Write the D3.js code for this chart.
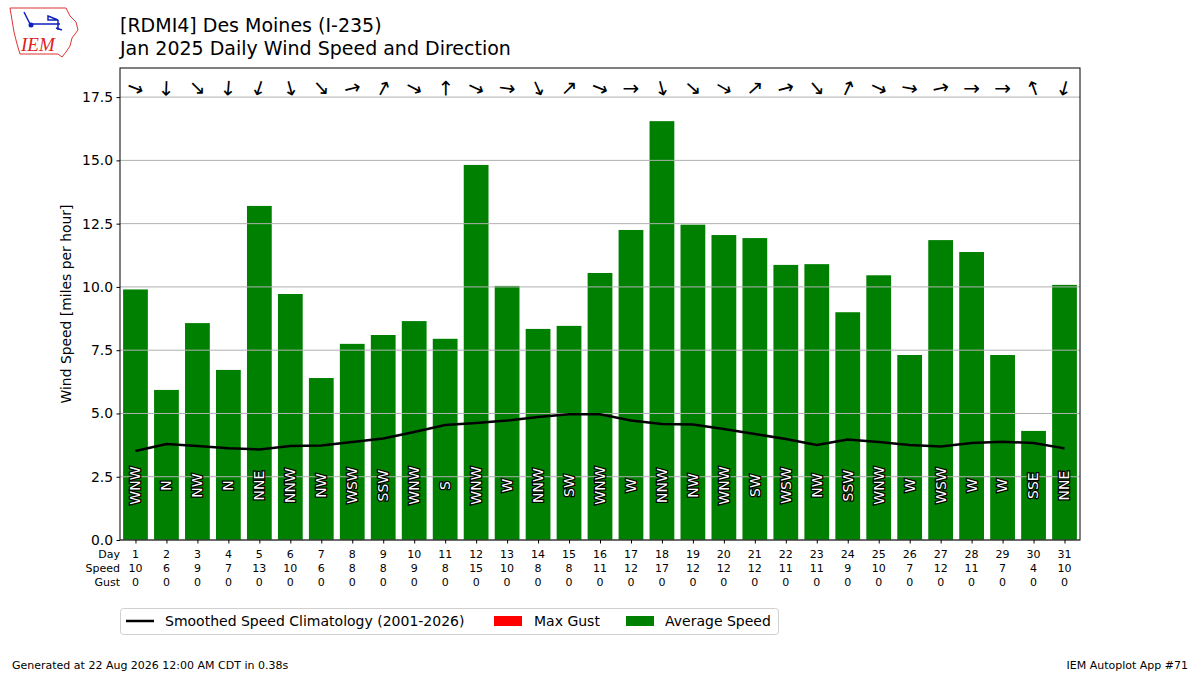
<!DOCTYPE html>
<html>
<head>
<meta charset="utf-8">
<script src="https://cdn.jsdelivr.net/npm/d3@7"></script>
<style>
  body { margin: 0; background: #fff; }
  svg { font-family: "DejaVu Sans", sans-serif; }
</style>
</head>
<body>
<div id="chart"></div>
<script>
const days = d3.range(1, 32);
const avgSpeed = [9.9, 5.93, 8.57, 6.72, 13.2, 9.72, 6.4, 7.75, 8.1, 8.65, 7.95, 14.82, 10.04, 8.34, 8.46, 10.55,
  12.25, 16.55, 12.46, 12.05, 11.93, 10.87, 10.9, 9.0, 10.46, 7.31, 11.85, 11.38, 7.31, 4.31, 10.08];
const maxGust = new Array(31).fill(0);
const windDir = [292, 2, 315, 5, 18, 345, 318, 256, 208, 298, 180, 295, 278, 336, 225, 292,
  270, 345, 312, 300, 228, 255, 320, 205, 295, 280, 257, 270, 270, 160, 15];
const dirLabels = ["WNW", "N", "NW", "N", "NNE", "NNW", "NW", "WSW", "SSW", "WNW", "S", "WNW", "W", "NNW", "SW", "WNW",
  "W", "NNW", "NW", "WNW", "SW", "WSW", "NW", "SSW", "WNW", "W", "WSW", "W", "W", "SSE", "NNE"];
const climo = [3.52, 3.79, 3.71, 3.63, 3.58, 3.71, 3.73, 3.87, 4.01, 4.27, 4.54, 4.62, 4.72, 4.86, 4.97, 4.97,
  4.72, 4.58, 4.56, 4.39, 4.19, 3.99, 3.75, 3.97, 3.87, 3.75, 3.69, 3.83, 3.88, 3.83, 3.62];
const yTicks = [0, 2.5, 5, 7.5, 10, 12.5, 15, 17.5];

class WindChart {
  constructor(container) {
    this.width = 1200;
    this.height = 675;
    this.svg = d3.select(container).append("svg").attr("width", this.width).attr("height", this.height);
    this.padding = { l: 120, r: 1080, t: 68, b: 540 };

    this.xScale = d3.scaleLinear().domain([0.5, 31.5]).range([this.padding.l, this.padding.r]);
    this.yScale = d3.scaleLinear().domain([0, 18.65]).range([this.padding.b, this.padding.t]);
    this.bw = (this.xScale(1.8) - this.xScale(1));

    this.drawLogo();
    this.drawTitle();
    this.drawBars();
    this.drawAxes();
    this.drawTable();
    this.drawLegend();
    this.drawFooter();
  }

  drawTitle() {
    const t = this.svg.append("g").attr("font-size", 19).attr("fill", "#000");
    t.append("text").attr("x", 120).attr("y", 32).text("[RDMI4] Des Moines (I-235)");
    t.append("text").attr("x", 120).attr("y", 55).text("Jan 2025 Daily Wind Speed and Direction");
  }

  drawBars() {
    const x = this.xScale, y = this.yScale;
    this.svg.append("g")
      .selectAll("rect")
      .data(avgSpeed)
      .join("rect")
      .attr("fill", "#008000")
      .attr("x", (d, i) => x(days[i]) - this.bw / 2)
      .attr("width", this.bw)
      .attr("y", (d) => y(d))
      .attr("height", (d) => y(0) - y(d));
    // gusts are all zero this month
    this.svg.append("g")
      .selectAll("rect")
      .data(maxGust)
      .join("rect")
      .attr("fill", "red")
      .attr("x", (d, i) => x(days[i]) - this.bw / 2)
      .attr("width", this.bw)
      .attr("y", (d) => y(d))
      .attr("height", (d) => y(0) - y(d));

    // grid over bars
    this.svg.append("g")
      .selectAll("line")
      .data(yTicks)
      .join("line")
      .attr("x1", this.padding.l)
      .attr("x2", this.padding.r)
      .attr("y1", (d) => y(d))
      .attr("y2", (d) => y(d))
      .attr("stroke", "#b0b0b0")
      .attr("stroke-width", 1);

    const line = d3.line().x((d, i) => x(days[i])).y((d) => y(d));
    this.svg.append("path")
      .datum(climo)
      .attr("d", line)
      .attr("fill", "none")
      .attr("stroke", "#000")
      .attr("stroke-width", 2.5);

    this.svg.append("g")
      .selectAll("text")
      .data(dirLabels)
      .join("text")
      .attr("transform", (d, i) => `translate(${x(days[i])},${y(2.15)}) rotate(-90)`)
      .attr("text-anchor", "middle")
      .attr("dy", "0.35em")
      .attr("font-size", 14)
      .attr("fill", "#fff")
      .attr("stroke", "#000")
      .attr("stroke-width", 2.5)
      .attr("paint-order", "stroke")
      .text((d) => d);

    // direction arrows point where the wind blows toward
    this.svg.append("g")
      .selectAll("text")
      .data(windDir)
      .join("text")
      .attr("transform", (d, i) => `translate(${x(days[i])},${y(17.85)}) rotate(${d + 90})`)
      .attr("text-anchor", "middle")
      .attr("dy", "0.32em")
      .attr("font-size", 20)
      .attr("fill", "#000")
      .text("\u2192");
  }

  drawAxes() {
    const yAxis = this.svg.append("g")
      .attr("transform", `translate(${this.padding.l},0)`)
      .call(d3.axisLeft(this.yScale).tickValues(yTicks).tickFormat(d3.format(".1f")).tickSizeOuter(0).tickSize(3.5).tickPadding(3.5));
    yAxis.select(".domain").remove();
    yAxis.selectAll("text").attr("font-size", 13.9).attr("font-family", "DejaVu Sans").attr("fill", "#000");
    yAxis.selectAll("line").attr("stroke", "#000");

    const xAxis = this.svg.append("g")
      .attr("transform", `translate(0,${this.padding.b})`)
      .call(d3.axisBottom(this.xScale).tickValues(days).tickFormat("").tickSizeOuter(0).tickSize(3.5));
    xAxis.select(".domain").remove();
    xAxis.selectAll("line").attr("stroke", "#000");

    this.svg.append("rect")
      .attr("x", this.padding.l)
      .attr("y", this.padding.t)
      .attr("width", this.padding.r - this.padding.l)
      .attr("height", this.padding.b - this.padding.t)
      .attr("fill", "none")
      .attr("stroke", "#000")
      .attr("stroke-width", 1);

    this.svg.append("text")
      .attr("transform", `translate(71,${(this.padding.t + this.padding.b) / 2}) rotate(-90)`)
      .attr("text-anchor", "middle")
      .attr("font-size", 13.9)
      .text("Wind Speed [miles per hour]");
  }

  drawTable() {
    const rows = [
      { name: "Day", vals: days.map(String) },
      { name: "Speed", vals: avgSpeed.map(d3.format(".0f")) },
      { name: "Gust", vals: maxGust.map(d3.format(".0f")) },
    ];
    const g = this.svg.append("g").attr("font-size", 11).attr("fill", "#000");
    rows.forEach((r, j) => {
      const yy = 558 + j * 14;
      g.append("text").attr("x", 120).attr("y", yy).attr("text-anchor", "end").text(r.name);
      g.selectAll(null)
        .data(r.vals)
        .join("text")
        .attr("x", (d, i) => this.xScale(days[i]))
        .attr("y", yy)
        .attr("text-anchor", "middle")
        .text((d) => d);
    });
  }

  drawLegend() {
    const g = this.svg.append("g").attr("font-size", 14);
    g.append("rect")
      .attr("x", 120.5).attr("y", 608.5).attr("width", 658).attr("height", 26).attr("rx", 3)
      .attr("fill", "#fff").attr("stroke", "#d0d0d0");
    g.append("line").attr("x1", 126).attr("x2", 154).attr("y1", 621).attr("y2", 621)
      .attr("stroke", "#000").attr("stroke-width", 2.5);
    g.append("text").attr("x", 165).attr("y", 626).text("Smoothed Speed Climatology (2001-2026)");
    g.append("rect").attr("x", 494).attr("y", 616).attr("width", 28).attr("height", 10).attr("fill", "red");
    g.append("text").attr("x", 534).attr("y", 626).text("Max Gust");
    g.append("rect").attr("x", 626).attr("y", 616).attr("width", 28).attr("height", 10).attr("fill", "#008000");
    g.append("text").attr("x", 665).attr("y", 626).text("Average Speed");
  }

  drawFooter() {
    const g = this.svg.append("g").attr("font-size", 11).attr("fill", "#000");
    g.append("text").attr("x", 12).attr("y", 669).text("Generated at 22 Aug 2026 12:00 AM CDT in 0.38s");
    g.append("text").attr("x", 1188).attr("y", 669).attr("text-anchor", "end").text("IEM Autoplot App #71");
  }

  drawLogo() {
    const g = this.svg.append("g");
    g.append("path")
      .attr("d", "M10,8 L66,8 L70,16 L76,22 L78,30 L72,38 L70,46 L66,52 L62,57 L58,54 L20,54 L17,44 L14,32 L12,20 Z")
      .attr("fill", "none").attr("stroke", "#d33").attr("stroke-width", 1);
    g.append("path")
      .attr("d", "M24,12 L28,20 L30,24 M30,24 L60,24 M48,16 L58,20 L48,20 Z M58,20 L58,30 M56,28 L62,30")
      .attr("fill", "none").attr("stroke", "#1020c0").attr("stroke-width", 1.5);
    g.append("circle").attr("cx", 31).attr("cy", 25).attr("r", 2.5).attr("fill", "#1020c0");
    g.append("text").attr("x", 21).attr("y", 51)
      .attr("font-family", "Liberation Serif").attr("font-style", "italic")
      .attr("font-size", 19).attr("fill", "#d22").text("IEM");
  }
}

new WindChart("#chart");
</script>
</body>
</html>
